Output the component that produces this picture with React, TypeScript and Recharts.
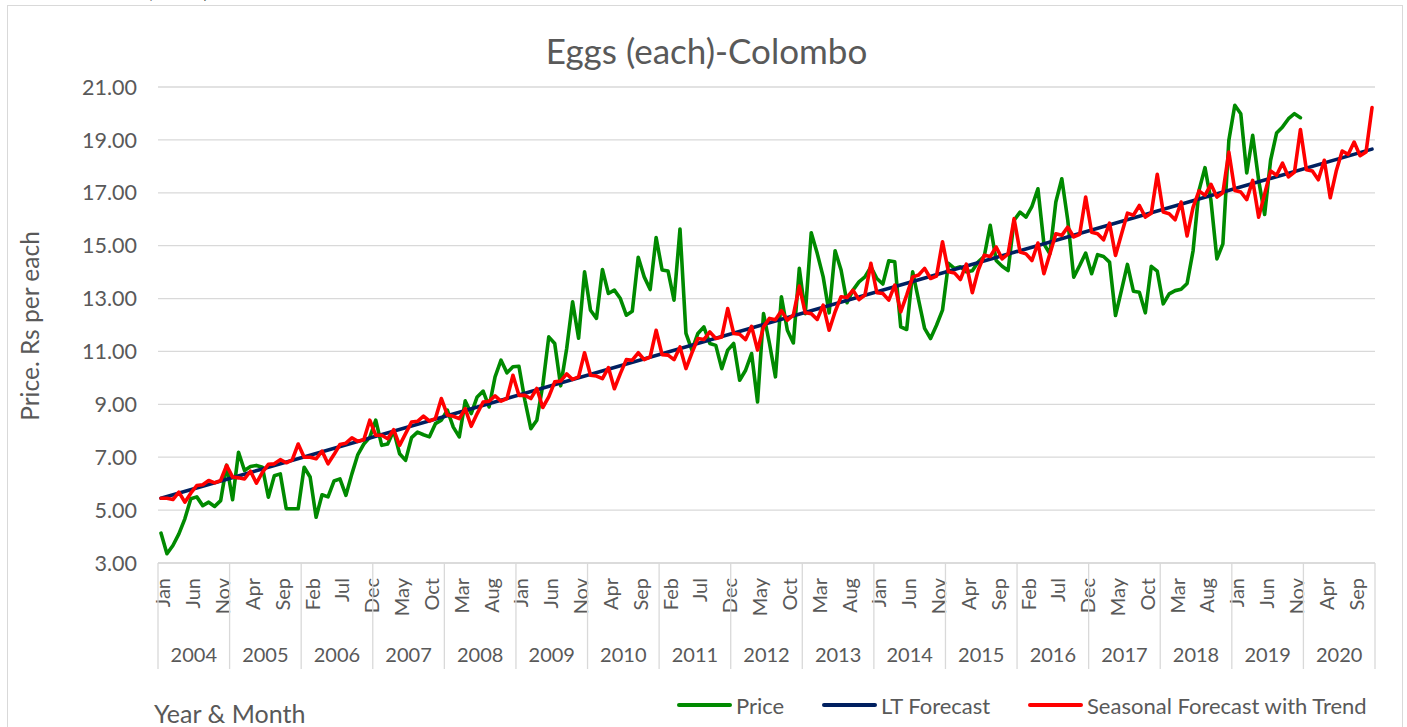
import React from 'react';
import { ComposedChart, Line, XAxis, YAxis, CartesianGrid } from 'recharts';

// ---------- data ----------
const MONTHS = ['Jan', 'Feb', 'Mar', 'Apr', 'May', 'Jun', 'Jul', 'Aug', 'Sep', 'Oct', 'Nov', 'Dec'];
const YEARS = [2004, 2005, 2006, 2007, 2008, 2009, 2010, 2011, 2012, 2013, 2014, 2015, 2016, 2017, 2018, 2019, 2020];
const Y_TICKS = [3, 5, 7, 9, 11, 13, 15, 17, 19, 21];

// Price, Jan 2004 .. Dec 2019
const priceValues = [
  4.13, 3.35, 3.66, 4.1, 4.67, 5.43, 5.5, 5.17, 5.3, 5.14, 5.36, 6.7,
  5.39, 7.19, 6.5, 6.65, 6.69, 6.62, 5.49, 6.3, 6.37, 5.05, 5.05, 5.05,
  6.62, 6.25, 4.73, 5.58, 5.5, 6.1, 6.18, 5.56, 6.37, 7.1, 7.5, 7.75,
  8.4, 7.45, 7.5, 8.0, 7.13, 6.88, 7.74, 7.95, 7.85, 7.77, 8.27, 8.4,
  8.78, 8.14, 7.77, 9.13, 8.65, 9.28, 9.5, 8.9, 10.04, 10.67, 10.19, 10.42,
  10.44, 9.15, 8.08, 8.4, 9.72, 11.55, 11.3, 9.7, 11.1, 12.88, 11.5, 14.01,
  12.56, 12.25, 14.1, 13.19, 13.32, 13.0, 12.37, 12.52, 14.56, 13.82, 13.34, 15.31,
  14.08, 14.04, 12.94, 15.63, 11.68, 11.05, 11.68, 11.93, 11.3, 11.23, 10.35, 11.05,
  11.3, 9.91, 10.29, 10.92, 9.09, 12.43, 11.3, 10.04, 13.07, 11.8, 11.32, 14.14,
  12.43, 15.49, 14.71, 13.82, 12.46, 14.81, 14.08, 12.84, 13.32, 13.63, 13.82, 14.2,
  13.76, 13.55, 14.43, 14.39, 11.93, 11.83, 14.01, 12.94, 11.87, 11.49, 11.99, 12.56,
  14.33, 14.14, 14.2, 14.01, 14.05, 14.39, 14.6, 15.77, 14.44, 14.22, 14.06, 15.96,
  16.27, 16.08, 16.49, 17.15, 15.07, 14.69, 16.65, 17.53, 15.96, 13.81, 14.25, 14.72,
  13.94, 14.66, 14.59, 14.38, 12.36, 13.31, 14.29, 13.28, 13.24, 12.46, 14.22, 14.04,
  12.8, 13.18, 13.3, 13.35, 13.57, 14.8, 17.09, 17.95, 16.71, 14.5, 15.07, 18.98,
  20.31, 19.99, 17.75, 19.17, 17.47, 16.18, 18.23, 19.26, 19.49, 19.8, 19.99, 19.84,
];

// Seasonal Forecast with Trend, Jan 2004 .. Dec 2020
const seasonalValues = [
  5.45, 5.45, 5.4, 5.68, 5.3, 5.64, 5.93, 5.96, 6.12, 6.03, 6.12, 6.69,
  6.25, 6.22, 6.18, 6.47, 6.02, 6.43, 6.73, 6.75, 6.91, 6.79, 6.9, 7.5,
  7.0, 7.0, 6.94, 7.23, 6.75, 7.1, 7.48, 7.53, 7.73, 7.6, 7.66, 8.4,
  7.83, 7.83, 7.7, 8.04, 7.45, 7.89, 8.33, 8.36, 8.55, 8.37, 8.46, 9.22,
  8.6, 8.55, 8.46, 8.84, 8.17, 8.65, 9.09, 9.12, 9.32, 9.12, 9.22, 10.1,
  9.34, 9.34, 9.22, 9.6, 8.88, 9.28, 9.85, 9.88, 10.15, 9.94, 10.04, 10.95,
  10.1, 10.07, 9.97, 10.39, 9.59, 10.16, 10.69, 10.67, 10.95, 10.69, 10.79, 11.8,
  10.88, 10.86, 10.69, 11.17, 10.35, 10.95, 11.49, 11.45, 11.74, 11.49, 11.55, 12.62,
  11.68, 11.65, 11.45, 11.95, 11.05, 11.93, 12.25, 12.2, 12.54, 12.18, 12.37, 13.47,
  12.46, 12.43, 12.21, 12.75, 11.8, 12.5, 13.07, 13.04, 13.32, 12.96, 13.13, 14.33,
  13.22, 13.19, 12.94, 13.51, 12.5, 13.13, 13.82, 13.89, 14.14, 13.76, 13.85, 15.15,
  14.01, 13.97, 13.72, 14.3, 13.22, 14.08, 14.64, 14.59, 14.95, 14.5, 14.69, 16.02,
  14.76, 14.69, 14.44, 15.1, 13.94, 14.69, 15.45, 15.39, 15.7, 15.33, 15.43, 16.84,
  15.51, 15.45, 15.22, 15.85, 14.63, 15.43, 16.23, 16.15, 16.52, 16.08, 16.23, 17.7,
  16.27, 16.21, 15.98, 16.65, 15.37, 16.45, 17.07, 16.9, 17.32, 16.84, 17.0, 18.54,
  17.09, 17.03, 16.74, 17.47, 16.08, 16.96, 17.82, 17.66, 18.12, 17.6, 17.78, 19.39,
  17.87, 17.82, 17.49, 18.23, 16.81, 17.82, 18.58, 18.45, 18.92, 18.4, 18.54, 20.22,
];

// LT Forecast (straight trend line): value at Jan 2004 and at Dec 2020
const ltForecastStart = 5.45;
const ltForecastEnd = 18.65;

const N = seasonalValues.length;
const data = seasonalValues.map((s, i) => ({
  idx: i,
  price: i < priceValues.length ? priceValues[i] : null,
  lt: i === 0 ? ltForecastStart : i === N - 1 ? ltForecastEnd : null,
  seasonal: s,
}));

// ---------- layout ----------
const W = 1407;
const H = 727;
const PLOT_LEFT = 158;
const PLOT_RIGHT = 1375;
const PLOT_TOP = 87;
const PLOT_BOTTOM = 563;
const XAXIS_H = 106;
const BAND = (PLOT_RIGHT - PLOT_LEFT) / N;
const TEXT = '#595959';
const GRID = '#d9d9d9';
const FONT = 'Lato, "Open Sans", sans-serif';

function XTick(props: any) {
  const { x, payload } = props;
  const i = Number(payload.value);
  const parts: React.ReactNode[] = [];
  if (i % 5 === 0) {
    parts.push(
      <text
        key="m"
        transform={`translate(${x + 1.5},${PLOT_BOTTOM + 15}) rotate(-90)`}
        textAnchor="end"
        dominantBaseline="central"
        fill={TEXT}
        fontSize={20}
        fontFamily={FONT}
      >
        {MONTHS[i % 12]}
      </text>
    );
  }
  if (i % 12 === 0) {
    parts.push(
      <line key="s" x1={x - BAND / 2} x2={x - BAND / 2} y1={PLOT_BOTTOM} y2={PLOT_BOTTOM + XAXIS_H} stroke={GRID} strokeWidth={1.3} />
    );
  }
  if (i === N - 1) {
    parts.push(
      <line key="e" x1={x + BAND / 2} x2={x + BAND / 2} y1={PLOT_BOTTOM} y2={PLOT_BOTTOM + XAXIS_H} stroke={GRID} strokeWidth={1.3} />
    );
  }
  if (i % 12 === 6) {
    parts.push(
      <text
        key="y"
        x={x - BAND / 2}
        y={PLOT_BOTTOM + 91}
        textAnchor="middle"
        dominantBaseline="central"
        fill={TEXT}
        fontSize={20}
        fontFamily={FONT}
      >
        {YEARS[Math.floor(i / 12)]}
      </text>
    );
  }
  return <g>{parts}</g>;
}

const LEGEND = [
  { color: '#008a00', label: 'Price', left: 677 },
  { color: '#002060', label: 'LT Forecast', left: 822 },
  { color: '#ff0000', label: 'Seasonal Forecast with Trend', left: 1028 },
];

export default function App() {
  return (
    <div style={{ position: 'absolute', left: 0, top: 0, width: W, height: H, overflow: 'hidden', background: '#fff', fontFamily: FONT }}>
      <div style={{ position: 'absolute', left: 143, top: -30, fontFamily: '"Liberation Serif", serif', fontSize: 28, color: '#000', whiteSpace: 'pre' }}>(each)</div>
      <div style={{ position: 'absolute', left: 7, top: 5, width: 1396, height: 740, border: `1.3px solid ${GRID}`, boxSizing: 'border-box' }} />
      <div style={{ position: 'absolute', left: 0, top: 0 }}>
        <ComposedChart
          width={W}
          height={H}
          data={data}
          margin={{ top: PLOT_TOP, right: W - PLOT_RIGHT, left: 0, bottom: H - PLOT_BOTTOM - XAXIS_H }}
        >
          <CartesianGrid vertical={false} stroke={GRID} strokeWidth={1.3} />
          <XAxis
            dataKey="idx"
            type="category"
            scale="band"
            interval={0}
            height={XAXIS_H}
            tickLine={false}
            axisLine={{ stroke: GRID, strokeWidth: 1.3 }}
            tick={<XTick />}
          />
          <YAxis
            width={PLOT_LEFT}
            domain={[3, 21]}
            ticks={Y_TICKS}
            allowDataOverflow
            axisLine={false}
            tickLine={false}
            tickMargin={15}
            tickFormatter={(v: number) => v.toFixed(2)}
            tick={{ fill: TEXT, fontSize: 21.5, fontFamily: FONT }}
          />
          <Line dataKey="price" stroke="#008a00" strokeWidth={3.6} dot={false} type="linear" isAnimationActive={false} strokeLinejoin="round" strokeLinecap="round" />
          <Line dataKey="lt" stroke="#002060" strokeWidth={3.6} dot={false} type="linear" connectNulls isAnimationActive={false} strokeLinecap="round" />
          <Line dataKey="seasonal" stroke="#ff0000" strokeWidth={3.6} dot={false} type="linear" isAnimationActive={false} strokeLinejoin="round" strokeLinecap="round" />
        </ComposedChart>
      </div>
      <div style={{ position: 'absolute', left: 0, width: W, top: 28, textAlign: 'center', paddingLeft: 3, fontSize: 35, color: TEXT, lineHeight: '44px' }}>
        Eggs (each)-Colombo
      </div>
      <div
        style={{
          position: 'absolute',
          left: 30,
          top: 326,
          transform: 'translate(-50%, -50%) rotate(-90deg)',
          fontSize: 24.5,
          color: TEXT,
          whiteSpace: 'nowrap',
          lineHeight: '30px',
        }}
      >
        Price. Rs per each
      </div>
      <div style={{ position: 'absolute', left: 154, top: 698, fontSize: 25, color: TEXT, whiteSpace: 'nowrap', lineHeight: '30px' }}>Year &amp; Month</div>
      {LEGEND.map((it) => (
        <div key={it.label} style={{ position: 'absolute', left: it.left, top: 691, height: 28, display: 'flex', alignItems: 'center', fontSize: 22, color: TEXT, whiteSpace: 'nowrap' }}>
          <div style={{ width: 55, height: 4, background: it.color, borderRadius: 2, marginRight: 4 }} />
          <span>{it.label}</span>
        </div>
      ))}
    </div>
  );
}
